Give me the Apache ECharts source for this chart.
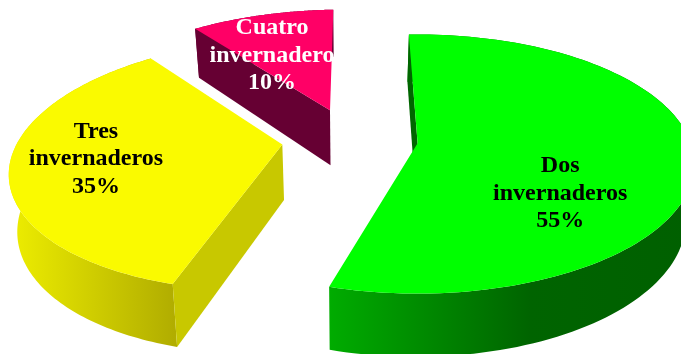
<!DOCTYPE html>
<html>
<head>
<meta charset="utf-8">
<style>html,body{margin:0;padding:0;background:#fff}#chart{width:681px;height:354px}</style>
<script src="https://cdn.jsdelivr.net/npm/echarts@6/dist/echarts.min.js"></script>
</head>
<body>
<div id="chart"></div>
<script>
// Share of producers by number of greenhouses
const categories = ['Dos invernaderos', 'Tres invernaderos', 'Cuatro invernadero'];
const percents = [55, 35, 10];
const labelColors = ['#000000', '#000000', '#ffffff'];
const topColors = ['#00ff00', '#fafa00', '#ff0066'];
const sideColors = ['#006600', '#c8c800', '#660033'];
const rimStops = [
  [[0, '#00ac00'], [0.55, '#006400'], [1, '#006000']],
  [[0, '#eeee00'], [1, '#b0ac00']],
  [[0, '#660033'], [1, '#660033']]
];

// Perspective exploded pie: world units are pie radii, y grows toward the viewer
const view = { x0: 420, y0: 140.5, rx: 272, ry: 125, k: 0.16 };
const pie = { cx: -0.257, cy: 0, explode: 0.25, startDeg: -2.2 };
// Per-wedge radius, vertical pixel offset and extra wall height of the pulled-out pieces
const wedgeRadius = [1, 0.97, 1];
const wedgeLift = [-1, -2, -2];
const wedgeExtraDepth = [0, 0, 2];
const base = { shrink: 0.975, centerX: 350, depth: 55, depthSlope: 8 };
// Label centre relative to the projected tip of each wedge
const labelShift = [[142.6, 50.4], [-186.4, 14.3], [-58, -54.5]];
const font = 'bold 24px "Liberation Serif", "Times New Roman", serif';
const lineHeight = 27.5;

function project(X, Y) {
  const w = 1 / (1 - view.k * Y);
  return [view.x0 + view.rx * X * w, view.y0 + view.ry * Y * w];
}
function drop(X, Y, extra) {
  const p = project(X, Y);
  return [
    base.centerX + (p[0] - base.centerX) * base.shrink,
    p[1] + base.depth + extra + base.depthSlope * Y
  ];
}
const unit = deg => [Math.sin(deg * Math.PI / 180), -Math.cos(deg * Math.PI / 180)];
const poly = (points, fill) => ({ type: 'polygon', shape: { points }, style: { fill } });

function renderSlice(params, api) {
  const i = params.dataIndex;
  const share = api.value(0);
  const before = percents.slice(0, i).reduce((a, b) => a + b, 0);
  const from = pie.startDeg + before * 3.6;
  const to = from + share * 3.6;
  const midDir = unit((from + to) / 2);
  const ox = pie.cx + pie.explode * midDir[0];
  const oy = pie.cy + pie.explode * midDir[1];
  const rimWorld = [];
  for (let s = 0; s <= 120; s++) {
    const d = unit(from + (to - from) * s / 120);
    rimWorld.push([ox + d[0] * wedgeRadius[i], oy + d[1] * wedgeRadius[i]]);
  }
  const lift = pt => [pt[0], pt[1] + wedgeLift[i]];
  const topRim = rimWorld.map(q => lift(project(q[0], q[1])));
  const lowRim = rimWorld.map(q => lift(drop(q[0], q[1], wedgeExtraDepth[i])));
  const tip = lift(project(ox, oy));
  const tipLow = lift(drop(ox, oy, wedgeExtraDepth[i]));

  // Only the wall on the clockwise-start edge faces the viewer
  const wall = poly([topRim[0], tip, tipLow, lowRim[0]], sideColors[i]);
  const rimWall = poly(topRim.concat(lowRim.slice().reverse()), {
    type: 'linear', x: 0, y: 0, x2: 1, y2: 0,
    colorStops: rimStops[i].map(st => ({ offset: st[0], color: st[1] }))
  });
  const top = poly([tip].concat(topRim), topColors[i]);
  const label = {
    type: 'text',
    x: tip[0] + labelShift[i][0],
    y: tip[1] + labelShift[i][1],
    style: {
      text: categories[i].replace(' ', '\n') + '\n' + share + '%',
      fill: labelColors[i],
      font,
      lineHeight,
      align: 'center',
      verticalAlign: 'middle'
    }
  };
  return { type: 'group', children: [rimWall, wall, top, label] };
}

const chart = echarts.init(document.getElementById('chart'), null, { renderer: 'canvas' });
chart.setOption({
  animation: false,
  backgroundColor: '#ffffff',
  series: [{
    type: 'custom',
    coordinateSystem: 'none',
    silent: true,
    renderItem: renderSlice,
    data: percents.map(v => [v])
  }]
});
</script>
</body>
</html>
